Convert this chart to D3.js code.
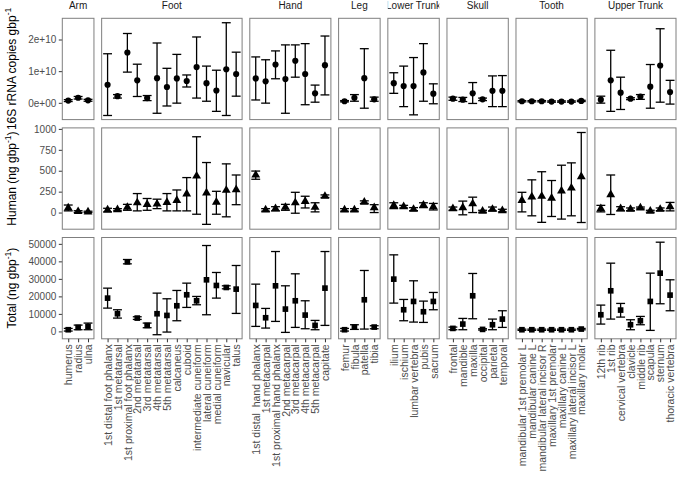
<!DOCTYPE html>
<html><head><meta charset="utf-8">
<script src="https://cdn.jsdelivr.net/npm/d3@7"></script>
<style>
html,body{margin:0;padding:0;background:#fff;}
svg{display:block;font-family:"Liberation Sans",Arial,sans-serif;}
svg text{white-space:pre;}
</style></head>
<body>
<svg id="chart" width="677" height="478"></svg>
<script>
// ---------------- DATA ----------------
const regions = ["Arm","Foot","Hand","Leg","Lower Trunk","Skull","Tooth","Upper Trunk"];

const bones = [
  "humerus","radius","ulna",
  "1st distal foot phalanx","1st metatarsal","1st proximal foot phalanx","2nd metatarsal","3rd metatarsal","4th metatarsal","5th metatarsal","calcaneus","cuboid","intermediate cuneiform","lateral cuneiform","medial cuneiform","navicular","talus",
  "1st distal  hand phalanx","1st metacarpal","1st proximal hand phalanx","2nd metacarpal","3rd metacarpal","4th metacarpal","5th metacarpal","capitate",
  "femur","fibula","patella","tibia",
  "ilium","ischium","lumbar vertebra","pubis","sacrum",
  "frontal","mandible","maxilla","occipital","parietal","temporal",
  "mandibular 1st premolar L","mandibular canine L","mandibular lateral incisor R","maxillary 1st premolar","maxillary canine L","maxillary lateral incisor L","maxillary molar",
  "12th rib","1st rib","cervical vertebra","clavicle","middle rib","scapula","sternum","thoracic vertebra"
];
const boneRegion = [
  "Arm","Arm","Arm",
  "Foot","Foot","Foot","Foot","Foot","Foot","Foot","Foot","Foot","Foot","Foot","Foot","Foot","Foot",
  "Hand","Hand","Hand","Hand","Hand","Hand","Hand","Hand",
  "Leg","Leg","Leg","Leg",
  "Lower Trunk","Lower Trunk","Lower Trunk","Lower Trunk","Lower Trunk",
  "Skull","Skull","Skull","Skull","Skull","Skull",
  "Tooth","Tooth","Tooth","Tooth","Tooth","Tooth","Tooth",
  "Upper Trunk","Upper Trunk","Upper Trunk","Upper Trunk","Upper Trunk","Upper Trunk","Upper Trunk","Upper Trunk"
];

// 16S rRNA copies gbp^-1
const rrnaMean = [7e8,1.6e9,8e8,
  5.7e9,2.1e9,1.59e10,7.1e9,1.5e9,7.8e9,5.0e9,7.7e9,6.9e9,1.13e10,6.2e9,3.9e9,1.06e10,9.1e9,
  7.7e9,6.8e9,1.21e10,7.5e9,1.33e10,9.1e9,3.0e9,1.19e10,
  5e8,1.6e9,7.8e9,1.1e9,
  6.2e9,5.3e9,5.3e9,9.6e9,2.9e9,
  1.3e9,1.0e9,3.0e9,1.1e9,3.8e9,3.8e9,
  5e8,5e8,5e8,4e8,4e8,4e8,6e8,
  1.0e9,7.1e9,3.2e9,1.3e9,2.0e9,5.1e9,1.18e10,3.4e9];
const rrnaLow = [4e8,1.2e9,5e8,
  -4.0e9,1.5e9,9.7e9,2.0e9,7e8,-3.3e9,-1.0e9,-1e8,5.0e9,1.5e9,5e8,-2.7e9,-4.0e9,2.1e9,
  9e8,-1e8,7.6e9,-3.3e9,8.1e9,-6e8,2e8,2.5e9,
  3e8,5e8,-1.7e9,5e8,
  3.0e9,-1.2e9,-3.8e9,5e8,-3e8,
  8e8,4e8,-2e8,7e8,-1.2e9,-1.2e9,
  3e8,3e8,3e8,2e8,2e8,2e8,4e8,
  -1e8,-2.7e9,-2.1e9,1.0e9,1.1e9,-1.7e9,2e8,-4e8];
const rrnaHigh = [1.0e9,2.0e9,1.1e9,
  1.55e10,2.6e9,2.19e10,1.22e10,2.3e9,1.89e10,1.09e10,1.53e10,8.8e9,2.08e10,1.16e10,1.03e10,2.53e10,1.60e10,
  1.45e10,1.36e10,1.64e10,1.83e10,1.83e10,1.87e10,5.6e9,2.11e10,
  7e8,2.6e9,1.71e10,1.8e9,
  9.5e9,1.16e10,1.43e10,1.87e10,6.0e9,
  1.8e9,1.7e9,6.4e9,1.5e9,8.5e9,8.6e9,
  7e8,7e8,7e8,6e8,6e8,6e8,8e8,
  2.1e9,1.66e10,8.1e9,1.6e9,2.6e9,1.21e10,2.34e10,7.1e9];

// Human (ng gbp^-1)
const humanMean = [55,12,8,
  31,35,63,117,98,102,121,145,223,437,234,125,266,273,
  449,31,47,63,117,133,63,195,
  31,31,125,59,
  86,70,39,90,70,
  47,59,105,16,39,23,
  145,188,195,172,258,293,430,
  47,215,47,39,55,16,39,70];
const humanLow = [20,2,0,
  8,20,27,20,27,47,20,20,20,-20,-141,-20,-51,94,
  398,16,20,27,-8,55,8,180,
  16,16,109,0,
  47,55,23,59,31,
  27,-27,0,4,20,8,
  8,-39,-117,-47,-78,-39,-119,
  8,-23,20,23,43,4,23,20];
const humanHigh = [90,22,16,
  51,47,98,227,168,160,227,270,418,906,598,254,582,449,
  496,47,70,98,242,195,117,211,
  47,47,140,94,
  117,86,59,117,109,
  66,137,184,27,66,39,
  242,391,488,383,566,594,957,
  86,449,70,55,66,27,55,121];

// Total (ng gbp^-1)
const totalMean = [950,2280,2850,
  19000,10080,39730,7600,3420,10080,9120,14640,20910,17490,29470,26230,25090,24140,
  14830,7790,26040,12740,17490,9310,3420,24710,
  950,2470,18060,2470,
  29850,12360,17110,11220,17110,
  1710,4180,20340,1140,3800,7030,
  950,950,950,950,950,950,1330,
  9500,23190,12170,3800,6080,17110,33270,20720];
const totalLow = [190,950,950,
  13300,7600,38590,6840,2090,-1900,-380,6080,13690,15210,9500,19010,24330,10270,
  2850,1900,5700,-570,2280,1520,950,3420,
  190,1140,1330,1520,
  16160,6080,5320,5130,12360,
  950,950,7220,760,950,2280,
  600,600,600,600,600,600,900,
  4180,7030,8170,950,3800,570,15780,11790];
const totalHigh = [1700,3600,4750,
  24700,12360,41060,8360,4750,21860,18630,23380,27560,19960,49050,33650,26040,37640,
  26990,13120,45620,26040,32890,17490,6270,45620,
  1700,3800,34790,3230,
  43720,18250,28900,17300,22240,
  2470,7410,33080,1520,7030,11790,
  1300,1300,1300,1300,1300,1300,1700,
  15020,38970,15970,6650,8550,33270,50950,29470];

const rowTitles = ["16S rRNA copies gbp", "Human (ng gbp", "Total (ng gbp"];
const rowDomains = [[-5.3e9, 2.67e10],[-199, 1012],[-4230, 53630]];
const rowTicks = [[0,1e10,2e10],[0,250,500,750,1000],[0,10000,20000,30000,40000,50000]];
const rowTickLabels = [["0e+00","1e+10","2e+10"],["0","250","500","750","1000"],["0","10000","20000","30000","40000","50000"]];

// ---------------- LAYOUT ----------------
const svg = d3.select("#chart");
const plotLeft = 62.3, plotRight = 676, gapX = 7.7;
const rowTop = 18.3, rowStep = 109.6, rowH = 101.3;
const counts = regions.map(r => boneRegion.filter(b => b === r).length);
const totalUnits = d3.sum(counts) + 0.2*regions.length;
const unit = (plotRight - plotLeft - gapX*(regions.length-1)) / totalUnits;

const panels = [];
let cx = plotLeft;
regions.forEach((r,i) => {
  const w = (counts[i] + 0.2) * unit;
  const cats = bones.filter((b,j) => boneRegion[j] === r);
  const x = d3.scalePoint().domain(cats).range([cx + 0.6*unit, cx + w - 0.6*unit]);
  panels.push({region:r, x0:cx, w, cats, x});
  cx += w + gapX;
});

const rowData = [
  {mean:rrnaMean, lo:rrnaLow, hi:rrnaHigh, shape:d3.symbolCircle, size:30},
  {mean:humanMean, lo:humanLow, hi:humanHigh, shape:d3.symbolTriangle, size:34},
  {mean:totalMean, lo:totalLow, hi:totalHigh, shape:d3.symbolSquare, size:32}
];

const borderCol = "#7f7f7f", tickCol = "#333333", textCol = "#4d4d4d";
const defs = svg.append("defs");

// strips
panels.forEach((p,i) => {
  defs.append("clipPath").attr("id","strip"+i)
    .append("rect").attr("x",p.x0).attr("y",0).attr("width",p.w).attr("height",rowTop);
  svg.append("text")
    .attr("clip-path","url(#strip"+i+")")
    .attr("x", p.x0 + p.w/2).attr("y", 9)
    .attr("text-anchor","middle")
    .attr("font-size","10px").attr("fill","#1a1a1a")
    .text(p.region);
});

rowData.forEach((rd, ri) => {
  const y0 = rowTop + ri*rowStep;
  const y = d3.scaleLinear().domain(rowDomains[ri]).range([y0 + rowH, y0]);

  // y axis
  const ya = svg.append("g").attr("transform",`translate(${plotLeft},0)`)
    .call(d3.axisLeft(y).tickValues(rowTicks[ri]).tickSize(3.5).tickPadding(2.5)
      .tickFormat((d,k) => rowTickLabels[ri][k]));
  ya.select(".domain").remove();
  ya.selectAll("line").attr("stroke",tickCol);
  ya.selectAll("text").attr("fill",textCol).attr("font-size","10px")
    .attr("font-family","'Liberation Sans',Arial,sans-serif");

  // row title
  const t = svg.append("text")
    .attr("transform",`translate(16,${y0 + rowH/2}) rotate(-90)`)
    .attr("text-anchor","middle").attr("font-size","12px").attr("fill","#000");
  t.append("tspan").text(rowTitles[ri]);
  t.append("tspan").attr("dy",-5).attr("font-size","8.5px").text("-1");
  if (ri > 0) t.append("tspan").attr("dy",5).text(")");

  panels.forEach(p => {
    // border
    svg.append("rect").attr("x",p.x0).attr("y",y0).attr("width",p.w).attr("height",rowH)
      .attr("fill","none").attr("stroke",borderCol).attr("stroke-width",1);

    const idx = bones.map((b,j)=>j).filter(j => boneRegion[j] === p.region);
    const g = svg.append("g");
    const capW = 0.9*unit/2;
    idx.forEach(j => {
      const xx = p.x(bones[j]);
      const ylo = y(rd.lo[j]), yhi = y(rd.hi[j]), ym = y(rd.mean[j]);
      g.append("line").attr("x1",xx).attr("x2",xx).attr("y1",ylo).attr("y2",yhi)
        .attr("stroke","#000").attr("stroke-width",1.3);
      [ylo,yhi].forEach(yy => g.append("line").attr("x1",xx-capW).attr("x2",xx+capW)
        .attr("y1",yy).attr("y2",yy).attr("stroke","#000").attr("stroke-width",1.3));
      g.append("path").attr("d", d3.symbol().type(rd.shape).size(rd.size)())
        .attr("transform",`translate(${xx},${ym})`).attr("fill","#000");
    });

    // x axis on last row
    if (ri === 2) {
      const xa = svg.append("g").attr("transform",`translate(0,${y0+rowH})`)
        .call(d3.axisBottom(p.x).tickSize(3.5).tickPadding(2));
      xa.select(".domain").remove();
      xa.selectAll("line").attr("stroke",tickCol);
      xa.selectAll("text")
        .attr("transform","rotate(-90)")
        .attr("text-anchor","end")
        .attr("x",-5.5).attr("y",0).attr("dy","0.35em")
        .attr("fill",textCol).attr("font-size","10.5px")
        .attr("font-family","'Liberation Sans',Arial,sans-serif");
    }
  });
});
</script>
</body></html>
